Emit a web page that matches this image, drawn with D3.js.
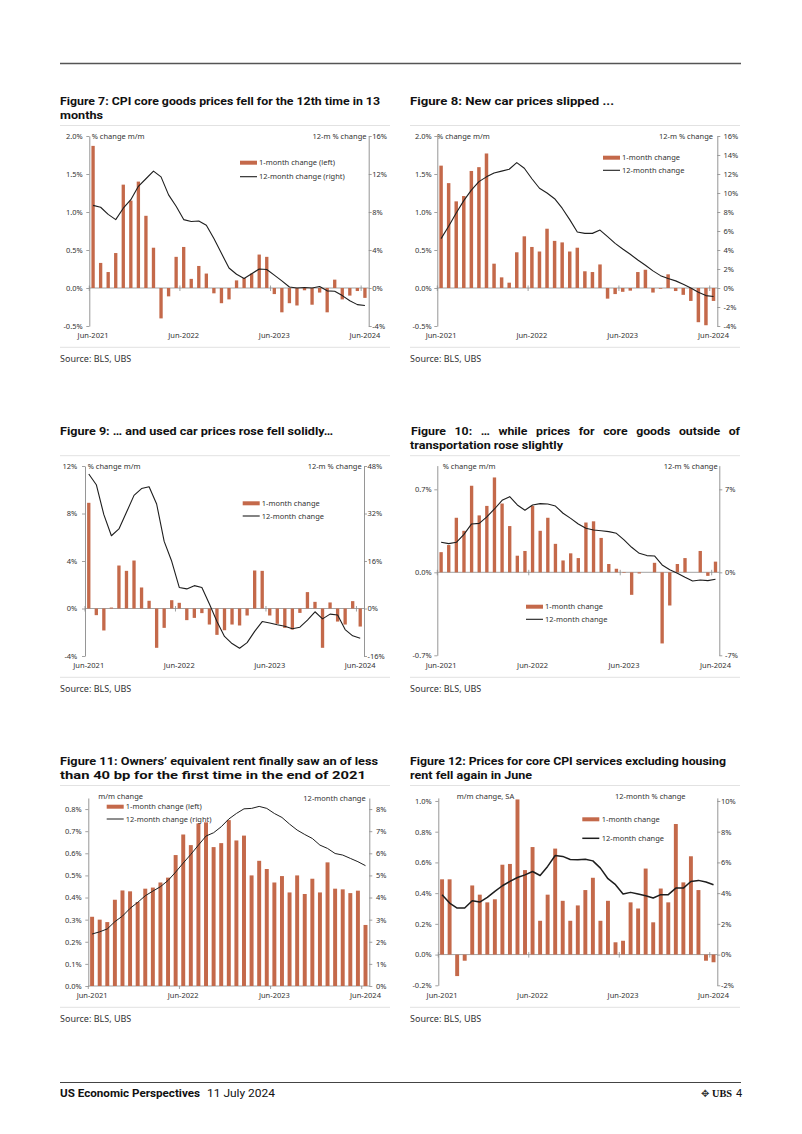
<!DOCTYPE html>
<html><head><meta charset="utf-8">
<script src="https://cdn.jsdelivr.net/npm/d3@7"></script>
<style>
body{margin:0;background:#fff;}
svg{display:block;font-family:"Noto Sans","DejaVu Sans",sans-serif;}
</style></head><body>
<svg id="page" width="802" height="1134"></svg>
<script>
// ---------- DATA ----------
const months = ["Jun-2021","Jul-2021","Aug-2021","Sep-2021","Oct-2021","Nov-2021","Dec-2021",
"Jan-2022","Feb-2022","Mar-2022","Apr-2022","May-2022","Jun-2022","Jul-2022","Aug-2022","Sep-2022","Oct-2022","Nov-2022","Dec-2022",
"Jan-2023","Feb-2023","Mar-2023","Apr-2023","May-2023","Jun-2023","Jul-2023","Aug-2023","Sep-2023","Oct-2023","Nov-2023","Dec-2023",
"Jan-2024","Feb-2024","Mar-2024","Apr-2024","May-2024","Jun-2024"];
const xTickLabels = ["Jun-2021","Jun-2022","Jun-2023","Jun-2024"];

const fig7Bars = [1.87,0.33,0.21,0.46,1.36,1.15,1.40,0.95,0.53,-0.40,-0.11,0.41,0.54,0.12,0.29,0.19,-0.07,-0.20,-0.15,0.10,0.13,0.19,0.44,0.41,-0.08,-0.32,-0.20,-0.23,-0.03,-0.22,-0.06,-0.32,0.11,-0.15,-0.10,-0.04,-0.13];
const fig7Line = [8.7,8.5,7.75,7.2,8.4,9.3,10.7,11.5,12.3,11.7,9.8,8.6,7.2,7.0,7.05,6.6,5.2,3.65,2.1,1.45,1.0,1.5,2.0,1.95,1.35,0.75,0.1,0.0,0.05,0.0,0.15,-0.3,-0.35,-0.8,-1.35,-1.75,-1.85];
const fig7LeftTicks = [-0.5,0,0.5,1.0,1.5,2.0];
const fig7RightTicks = [-4,0,4,8,12,16];

const fig8Bars = [1.61,1.38,1.14,1.21,1.54,1.59,1.77,0.32,0.14,0.07,0.47,0.68,0.54,0.48,0.78,0.62,0.60,0.48,0.53,0.22,0.21,0.31,-0.14,-0.08,-0.05,-0.035,0.21,0.24,-0.06,-0.01,0.18,-0.04,-0.09,-0.17,-0.45,-0.49,-0.17];
const fig8Line = [5.2,6.5,7.9,9.2,10.3,11.2,11.7,12.1,12.3,12.5,13.2,12.6,11.5,10.5,10.0,9.4,8.4,7.2,5.9,5.75,5.75,6.1,5.4,4.7,4.1,3.55,2.95,2.4,1.8,1.3,1.0,0.75,0.4,0.0,-0.45,-0.8,-0.9];
const fig8LeftTicks = [-0.5,0,0.5,1.0,1.5,2.0];
const fig8RightTicks = [-4,-2,0,2,4,6,8,10,12,14,16];

const fig9Bars = [8.9,-0.56,-1.85,0.08,3.62,3.17,4.04,1.77,0.65,-3.31,-1.63,0.70,0.48,-0.98,-0.79,-0.39,-1.35,-2.22,-1.83,-1.35,-1.43,-0.59,3.20,3.17,-0.59,-1.29,-1.63,-1.77,-0.37,1.38,0.56,-3.31,0.51,-1.10,-1.35,0.62,-1.52];
const fig9Line = [45.3,41.7,31.6,24.5,26.8,32.4,38.1,40.4,41.0,35.2,22.6,15.9,7.1,6.6,7.7,7.1,1.5,-4.4,-9.4,-11.8,-13.4,-11.5,-7.7,-4.4,-4.9,-5.5,-6.0,-6.8,-6.3,-3.9,-1.1,-3.5,-1.9,-2.2,-7.1,-9.2,-10.0];
const fig9LeftTicks = [-4,0,4,8,12];
const fig9RightTicks = [-16,0,16,32,48];

const fig10Bars = [0.17,0.23,0.46,0.35,0.73,0.48,0.56,0.80,0.58,0.39,0.14,0.18,0.56,0.35,0.46,0.24,0.10,0.16,0.12,0.42,0.43,0.29,0.07,0.03,-0.005,-0.19,-0.01,0.0,0.08,-0.60,-0.28,0.07,0.12,0.0,0.18,-0.03,0.09];
const fig10Line = [2.53,2.42,2.53,3.2,4.08,4.13,4.67,5.34,6.07,6.38,5.68,5.23,5.68,5.79,5.76,5.59,4.98,4.55,4.08,3.71,3.57,3.51,3.43,3.29,2.73,2.11,1.60,1.41,1.38,0.62,0.22,-0.08,-0.42,-0.73,-0.65,-0.70,-0.59];
const fig10LeftTicks = [-0.7,0,0.7];
const fig10RightTicks = [-7,0,7];

const fig11Bars = [0.313,0.300,0.289,0.390,0.432,0.428,0.380,0.44,0.445,0.468,0.49,0.592,0.685,0.637,0.735,0.74,0.628,0.646,0.75,0.658,0.68,0.50,0.566,0.529,0.468,0.497,0.423,0.50,0.416,0.485,0.423,0.559,0.44,0.437,0.42,0.431,0.276];
const fig11Line = [2.35,2.45,2.58,2.91,3.16,3.51,3.78,4.08,4.29,4.49,4.77,5.15,5.56,5.95,6.37,6.78,6.93,7.20,7.55,7.80,8.01,8.03,8.12,8.03,7.80,7.62,7.32,7.05,6.85,6.67,6.37,6.22,5.99,5.92,5.77,5.62,5.44];
const fig11LeftTicks = [0,0.1,0.2,0.3,0.4,0.5,0.6,0.7,0.8];
const fig11RightTicks = [0,1,2,3,4,5,6,7,8];

const fig12Bars = [0.49,0.49,-0.14,-0.04,0.45,0.39,0.34,0.36,0.585,0.59,1.01,0.55,0.70,0.22,0.39,0.69,0.35,0.22,0.32,0.42,0.50,0.22,0.35,0.08,0.09,0.34,0.30,0.56,0.21,0.43,0.34,0.85,0.47,0.64,0.42,-0.04,-0.05];
const fig12Line = [3.9,3.35,3.03,3.03,3.5,3.42,3.72,4.11,4.48,4.76,5.02,5.19,5.41,5.15,5.74,6.45,6.39,6.19,6.17,6.21,6.10,5.63,4.94,4.55,3.94,4.05,3.94,3.83,3.68,3.90,3.90,4.33,4.33,4.76,4.83,4.72,4.55];
const fig12LeftTicks = [-0.2,0,0.2,0.4,0.6,0.8,1.0];
const fig12RightTicks = [-2,0,2,4,6,8,10];

// ---------- DRAWING ----------
const svg = d3.select("#page");
const BAR = "#C4694A";
const INK = "#1e1e1e";
const AX = "#8a8a8a";
const TXT = "#333";
const FS = 7.5;
const TITLE_FONT = 'Roboto, "Noto Sans", sans-serif';
const TITLE_FS = 11.6;
const pct1 = v => v.toFixed(1) + "%";
const pct0 = v => Math.round(v) + "%";

function drawChart(c) {
  const g = svg.append("g");
  const p = 1 - c.barRatio;
  const x = d3.scaleBand().domain(months).range([c.axL, c.axR]).paddingInner(p).paddingOuter(p / 2);
  const step = x.step(), bw = x.bandwidth();
  const yL = d3.scaleLinear().domain(c.leftDomain).range(c.leftRange);
  const yR = d3.scaleLinear().domain(c.rightDomain).range(c.leftRange);
  const y0 = yL(0);

  g.append("line").attr("x1", c.axL).attr("x2", c.axR).attr("y1", y0).attr("y2", y0)
    .attr("stroke", AX).attr("stroke-width", 0.8);

  g.append("g").selectAll("rect").data(c.bars).join("rect")
    .attr("x", (d, i) => x(months[i]))
    .attr("y", d => Math.min(yL(d), y0))
    .attr("width", bw)
    .attr("height", d => Math.abs(yL(d) - y0))
    .attr("fill", BAR);

  g.append("g").selectAll("line").data(xTickLabels).join("line")
    .attr("x1", d => x(d) - step * p / 2).attr("x2", d => x(d) - step * p / 2)
    .attr("y1", c.bottomAxis ? y0 : y0 - 2.5).attr("y2", y0 + 3)
    .attr("stroke", AX).attr("stroke-width", 0.8);

  g.append("g").selectAll("text").data(xTickLabels).join("text")
    .attr("x", d => x(d) + bw / 2).attr("y", c.xLabelY)
    .attr("text-anchor", "middle").attr("font-size", FS).attr("fill", TXT).text(d => d);

  const line = d3.line().x((d, i) => x(months[i]) + bw / 2).y(d => yR(d));
  g.append("path").datum(c.line).attr("d", line).attr("fill", "none")
    .attr("stroke", INK).attr("stroke-width", c.lineW).attr("stroke-linejoin", "round");

  const la = g.append("g").attr("transform", `translate(${c.axL},0)`)
    .call(d3.axisLeft(yL).tickValues(c.leftTicks).tickFormat(c.leftFmt)
      .tickSize(3).tickSizeOuter(0).tickPadding(Math.max(1, c.axL - c.leftLabelX - 3)));
  const ra = g.append("g").attr("transform", `translate(${c.axR},0)`)
    .call(d3.axisRight(yR).tickValues(c.rightTicks).tickFormat(c.rightFmt)
      .tickSize(3).tickSizeOuter(0).tickPadding(Math.max(0.5, c.rightLabelX - c.axR - 3)));
  [la, ra].forEach(a => {
    a.select(".domain").attr("stroke", AX).attr("stroke-width", 0.9);
    a.selectAll(".tick line").attr("stroke", AX).attr("stroke-width", 0.8);
    a.selectAll(".tick text").attr("font-size", FS).attr("fill", TXT)
      .attr("font-family", '"Noto Sans","DejaVu Sans",sans-serif');
  });

  c.notes.forEach(n => g.append("text").attr("x", n.x).attr("y", n.y)
    .attr("text-anchor", n.anchor).attr("font-size", FS).attr("fill", TXT).text(n.text));

  const L = c.legend;
  g.append("rect").attr("x", L.x).attr("y", L.rectY - 2).attr("width", 17).attr("height", 4).attr("fill", BAR);
  g.append("line").attr("x1", L.x).attr("x2", L.x + 17).attr("y1", L.lineY).attr("y2", L.lineY)
    .attr("stroke", INK).attr("stroke-width", c.lineW);
  g.append("text").attr("x", L.textX).attr("y", L.rectY + 2.7).attr("font-size", FS).attr("fill", TXT).text(L.labels[0]);
  g.append("text").attr("x", L.textX).attr("y", L.lineY + 2.7).attr("font-size", FS).attr("fill", TXT).text(L.labels[1]);
}

const legA = ["1-month change (left)", "12-month change (right)"];
const legB = ["1-month change", "12-month change"];

drawChart({bars: fig7Bars, line: fig7Line, axL: 89.3, axR: 368.7,
  leftDomain: [-0.5, 2.0], leftRange: [326, 136], rightDomain: [-4, 16],
  leftTicks: fig7LeftTicks, rightTicks: fig7RightTicks, leftFmt: pct1, rightFmt: pct0,
  leftLabelX: 82.7, rightLabelX: 370.5, xLabelY: 338, barRatio: 0.44, lineW: 1.1,
  legend: {x: 240, rectY: 162.7, lineY: 176.7, textX: 259, labels: legA},
  notes: [{text: "% change m/m", x: 91.7, y: 138.7, anchor: "start"}, {text: "12-m % change", x: 366.5, y: 138.7, anchor: "end"}]});

drawChart({bars: fig8Bars, line: fig8Line, axL: 437.3, axR: 717.3,
  leftDomain: [-0.5, 2.0], leftRange: [326, 136], rightDomain: [-4, 16],
  leftTicks: fig8LeftTicks, rightTicks: fig8RightTicks, leftFmt: pct1, rightFmt: pct0,
  leftLabelX: 431.7, rightLabelX: 723.5, xLabelY: 338, barRatio: 0.46, lineW: 1.1,
  legend: {x: 603, rectY: 157.7, lineY: 170.3, textX: 622, labels: legB},
  notes: [{text: "% change m/m", x: 437, y: 138.7, anchor: "start"}, {text: "12-m % change", x: 713, y: 138.7, anchor: "end"}]});

drawChart({bars: fig9Bars, line: fig9Line, axL: 85, axR: 364,
  leftDomain: [-4, 12], leftRange: [656, 466], rightDomain: [-16, 48],
  leftTicks: fig9LeftTicks, rightTicks: fig9RightTicks, leftFmt: pct0, rightFmt: pct0,
  leftLabelX: 77.3, rightLabelX: 366.7, xLabelY: 667.5, barRatio: 0.44, lineW: 1.1,
  legend: {x: 242.7, rectY: 503.3, lineY: 516, textX: 261.7, labels: legB},
  notes: [{text: "% change m/m", x: 87.7, y: 468.7, anchor: "start"}, {text: "12-m % change", x: 361.7, y: 468.7, anchor: "end"}]});

drawChart({bars: fig10Bars, line: fig10Line, axL: 437.3, axR: 719.3,
  leftDomain: [-0.7, 0.9], leftRange: [655.3, 465.6], rightDomain: [-7, 9],
  leftTicks: fig10LeftTicks, rightTicks: fig10RightTicks, leftFmt: pct1, rightFmt: pct0,
  leftLabelX: 431.7, rightLabelX: 725, xLabelY: 667.5, barRatio: 0.44, lineW: 1.1,
  legend: {x: 526, rectY: 606.7, lineY: 619.3, textX: 545, labels: legB},
  notes: [{text: "% change m/m", x: 442.7, y: 468.7, anchor: "start"}, {text: "12-m % change", x: 717.7, y: 468.7, anchor: "end"}]});

drawChart({bars: fig11Bars, line: fig11Line, axL: 88.3, axR: 369.3,
  leftDomain: [0, 0.85], leftRange: [986, 798], rightDomain: [0, 8.5],
  leftTicks: fig11LeftTicks, rightTicks: fig11RightTicks, leftFmt: pct1, rightFmt: pct0,
  leftLabelX: 81.7, rightLabelX: 376, xLabelY: 997.5, barRatio: 0.52, lineW: 1.0, bottomAxis: true,
  legend: {x: 106.7, rectY: 806.7, lineY: 819, textX: 125.7, labels: legA},
  notes: [{text: "m/m change", x: 98.3, y: 798.7, anchor: "start"}, {text: "12-month change", x: 303.3, y: 801, anchor: "start"}]});

drawChart({bars: fig12Bars, line: fig12Line, axL: 438.3, axR: 717.3,
  leftDomain: [-0.2, 1.02], leftRange: [985.3, 797.9], rightDomain: [-2, 10.2],
  leftTicks: fig12LeftTicks, rightTicks: fig12RightTicks, leftFmt: pct1, rightFmt: pct0,
  leftLabelX: 431.7, rightLabelX: 721, xLabelY: 997.5, barRatio: 0.52, lineW: 1.5,
  legend: {x: 582.3, rectY: 819.3, lineY: 838.3, textX: 601.7, labels: legB},
  notes: [{text: "m/m change, SA", x: 456.7, y: 798.7, anchor: "start"}, {text: "12-month % change", x: 615, y: 798.7, anchor: "start"}]});

// ---------- PAGE FURNITURE ----------
svg.append("line").attr("x1", 60).attr("x2", 741).attr("y1", 63.5).attr("y2", 63.5).attr("stroke", "#555").attr("stroke-width", 1.5);

const titles = [
  {x: 60, y: 104.8, t: "Figure 7: CPI core goods prices fell for the 12th time in 13", w: 320},
  {x: 60, y: 118.6, t: "months", w: 43},
  {x: 410, y: 104.8, t: "Figure 8: New car prices slipped ...", w: 204},
  {x: 60, y: 434.8, t: "Figure 9: … and used car prices rose fell solidly…", w: 273},
  {x: 410, y: 448.6, t: "transportation rose slightly", w: 153},
  {x: 60, y: 764.8, t: "Figure 11: Owners’ equivalent rent finally saw an of less", w: 318},
  {x: 60, y: 778.6, t: "than 40 bp for the first time in the end of 2021", w: 306},
  {x: 410, y: 764.8, t: "Figure 12: Prices for core CPI services excluding housing", w: 316},
  {x: 410, y: 778.6, t: "rent fell again in June", w: 122}
];
let kRatio = 1;
titles.forEach(d => {
  const t = svg.append("text").attr("x", d.x).attr("y", d.y).attr("font-size", TITLE_FS)
    .attr("font-family", TITLE_FONT).attr("font-weight", "bold").attr("fill", "#111").text(d.t);
  const nat = t.node().getComputedTextLength();
  if (d.t.startsWith("Figure 12")) kRatio = d.w / nat;
  t.attr("textLength", d.w).attr("lengthAdjust", "spacingAndGlyphs");
});
(function () {
  const words = ["Figure", "10:", "…", "while", "prices", "for", "core", "goods", "outside", "of"];
  const x0 = 411, x1 = 740, y = 434.8;
  const nodes = words.map(w => svg.append("text").attr("y", y).attr("font-size", TITLE_FS)
    .attr("font-family", TITLE_FONT).attr("font-weight", "bold").attr("fill", "#111").text(w));
  const widths = nodes.map(n => n.node().getComputedTextLength() * kRatio);
  const gap = (x1 - x0 - d3.sum(widths)) / (words.length - 1);
  let cx = x0;
  nodes.forEach((n, i) => {
    n.attr("x", cx).attr("textLength", widths[i]).attr("lengthAdjust", "spacingAndGlyphs");
    cx += widths[i] + gap;
  });
})();

const frames = [[60, 390, 125.5, 347.3, 361.5], [410, 740, 125.5, 347.3, 361.5],
                [60, 390, 455.7, 677.3, 691.5], [410, 740, 455.7, 677.3, 691.5],
                [60, 390, 785.5, 1007.3, 1021.5], [410, 740, 785.5, 1007.3, 1021.5]];
frames.forEach(f => {
  svg.append("line").attr("x1", f[0]).attr("x2", f[1]).attr("y1", f[2]).attr("y2", f[2]).attr("stroke", "#e2e2e2").attr("stroke-width", 1);
  svg.append("line").attr("x1", f[0]).attr("x2", f[1]).attr("y1", f[3]).attr("y2", f[3]).attr("stroke", "#e2e2e2").attr("stroke-width", 1);
  svg.append("text").attr("x", f[0]).attr("y", f[4]).attr("font-size", 9).attr("fill", "#333").text("Source: BLS, UBS");
});

// footer
svg.append("line").attr("x1", 60).attr("x2", 741).attr("y1", 1082.5).attr("y2", 1082.5).attr("stroke", "#444").attr("stroke-width", 1);
svg.append("text").attr("x", 60).attr("y", 1097).attr("font-size", 11).attr("font-weight", "bold").attr("fill", "#111")
  .attr("font-family", TITLE_FONT)
  .attr("textLength", 140).attr("lengthAdjust", "spacingAndGlyphs").text("US Economic Perspectives");
svg.append("text").attr("x", 207).attr("y", 1097).attr("font-size", 11).attr("fill", "#111")
  .attr("font-family", TITLE_FONT)
  .attr("textLength", 68).attr("lengthAdjust", "spacingAndGlyphs").text("11 July 2024");
svg.append("text").attr("x", 701).attr("y", 1097).attr("font-size", 10).attr("fill", "#333").attr("font-family", "DejaVu Sans").text("✥");
svg.append("text").attr("x", 712).attr("y", 1097).attr("font-size", 11).attr("font-weight", "bold").attr("fill", "#111")
  .attr("font-family", "Liberation Serif, serif").attr("textLength", 20).attr("lengthAdjust", "spacingAndGlyphs").text("UBS");
svg.append("text").attr("x", 736).attr("y", 1097).attr("font-size", 11).attr("fill", "#111")
  .attr("font-family", TITLE_FONT).text("4");
</script>
</body></html>
